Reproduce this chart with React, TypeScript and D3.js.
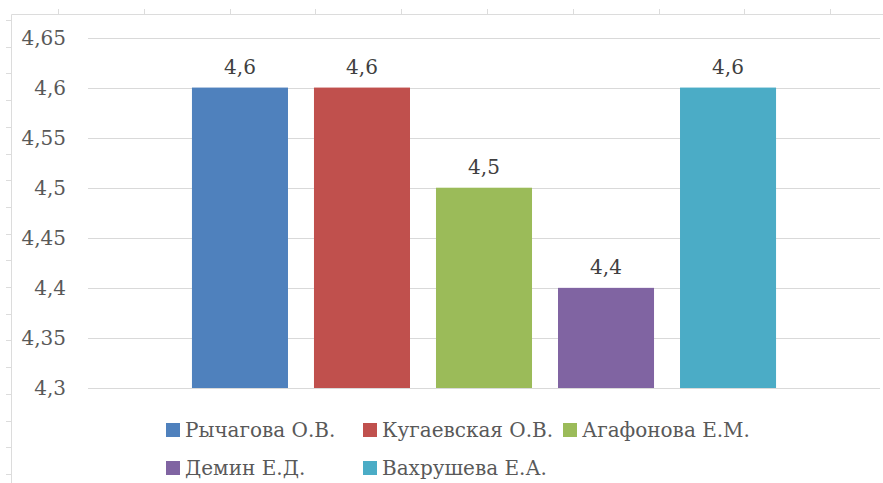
import React from "react";
import * as d3 from "d3";

const seriesNames = ["Рычагова О.В.", "Кугаевская О.В.", "Агафонова Е.М.", "Демин Е.Д.", "Вахрушева Е.А."];
const seriesValues = [4.6, 4.6, 4.5, 4.4, 4.6];
const seriesColors = ["#4F81BD", "#C0504D", "#9BBB59", "#8064A2", "#4BACC6"];
const yTicks = [4.3, 4.35, 4.4, 4.45, 4.5, 4.55, 4.6, 4.65];

const W = 883;
const H = 483;
const FONT = '"DejaVu Serif", serif';

const locale = d3.formatLocale({ decimal: ",", thousands: " ", grouping: [3], currency: ["", ""] });
const fmt = locale.format("~r");

const txt: React.CSSProperties = { fontFamily: FONT, fontSize: "20px" };

export default function App() {
  const y = d3.scaleLinear().domain([4.3, 4.65]).range([388, 37.5]);
  const x = d3
    .scaleBand<string>()
    .domain(seriesNames)
    .range([88, 880])
    .paddingInner(0.213)
    .paddingOuter(0.852);

  const topTicks = d3.range(10).map((i) => 58 + 85.8 * i);
  const leftTicks = d3.range(18).map((i) => 20 + 26.7 * i);

  const legendCols = [166, 363, 563];
  const legendRows = [430, 468];

  return (
    <svg
      width={W}
      height={H}
      style={{ position: "absolute", left: 0, top: 0, background: "#fff" }}
    >
      <rect x={0} y={0} width={W} height={H} fill="#fff" />
      <line x1={11.5} x2={W} y1={14.5} y2={14.5} stroke="#dcdcdc" strokeWidth={1} />
      <line x1={11.5} x2={11.5} y1={14.5} y2={H} stroke="#dcdcdc" strokeWidth={1} />
      {topTicks.map((t, i) => (
        <line key={"tt" + i} x1={Math.round(t) + 0.5} x2={Math.round(t) + 0.5} y1={9} y2={14.5} stroke="#dcdcdc" />
      ))}
      {leftTicks.map((t, i) => (
        <line key={"lt" + i} y1={Math.round(t) + 0.5} y2={Math.round(t) + 0.5} x1={6} x2={11.5} stroke="#dcdcdc" />
      ))}

      {yTicks.map((t) => (
        <line
          key={"g" + t}
          x1={88}
          x2={880}
          y1={Math.round(y(t)) + 0.5}
          y2={Math.round(y(t)) + 0.5}
          stroke="#d9d9d9"
          strokeWidth={1}
        />
      ))}
      {yTicks.map((t) => (
        <text key={"yl" + t} x={66} y={y(t)} dy="0.35em" textAnchor="end" style={txt} fill="#595959">
          {fmt(t)}
        </text>
      ))}

      {seriesNames.map((n, i) => (
        <rect
          key={"b" + n}
          x={x(n)}
          y={y(seriesValues[i])}
          width={x.bandwidth()}
          height={y(4.3) - y(seriesValues[i])}
          fill={seriesColors[i]}
        />
      ))}
      {seriesNames.map((n, i) => (
        <text
          key={"v" + n}
          x={(x(n) as number) + x.bandwidth() / 2}
          y={y(seriesValues[i]) - 14}
          textAnchor="middle"
          style={txt}
          fill="#404040"
        >
          {fmt(seriesValues[i])}
        </text>
      ))}

      {seriesNames.map((n, i) => {
        const cx = legendCols[i % 3];
        const cy = legendRows[Math.floor(i / 3)];
        return (
          <g key={"l" + n}>
            <rect x={cx} y={cy - 7} width={14} height={14} fill={seriesColors[i]} />
            <text x={cx + 19} y={cy} dy="0.35em" style={txt} fill="#595959">
              {n}
            </text>
          </g>
        );
      })}
    </svg>
  );
}
